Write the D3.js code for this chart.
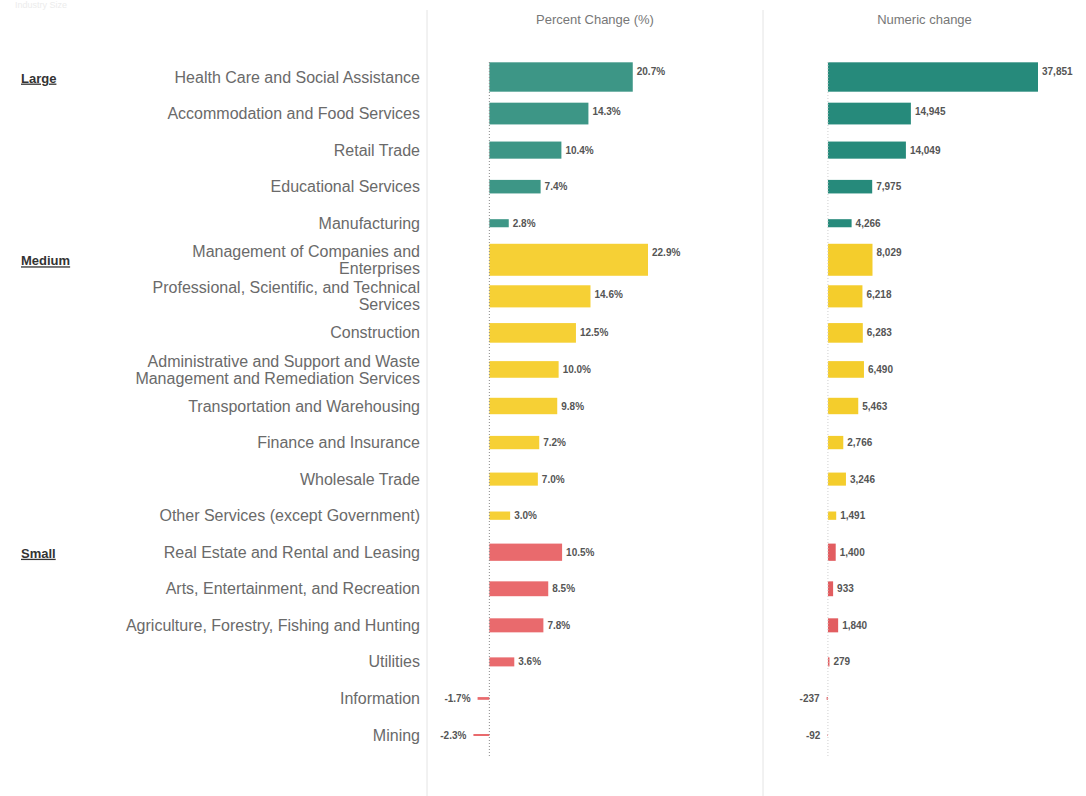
<!DOCTYPE html>
<html>
<head>
<meta charset="utf-8">
<script src="https://d3js.org/d3.v7.min.js"></script>
<style>
  body { margin: 0; background: #fff; }
  text { font-family: "Liberation Sans", Arial, sans-serif; }
</style>
</head>
<body>
<svg id="chart" width="1086" height="796"></svg>
<script>
/*
  Percent and numeric job change by industry, grouped by sector size.
  Bar thickness follows the percent change (like a Tableau size mark).
*/

var industries = [
  "Health Care and Social Assistance",
  "Accommodation and Food Services",
  "Retail Trade",
  "Educational Services",
  "Manufacturing",
  "Management of Companies and\nEnterprises",
  "Professional, Scientific, and Technical\nServices",
  "Construction",
  "Administrative and Support and Waste\nManagement and Remediation Services",
  "Transportation and Warehousing",
  "Finance and Insurance",
  "Wholesale Trade",
  "Other Services (except Government)",
  "Real Estate and Rental and Leasing",
  "Arts, Entertainment, and Recreation",
  "Agriculture, Forestry, Fishing and Hunting",
  "Utilities",
  "Information",
  "Mining"
];

var sizeGroups = [
  "Large", "Large", "Large", "Large", "Large",
  "Medium", "Medium", "Medium", "Medium", "Medium", "Medium", "Medium", "Medium",
  "Small", "Small", "Small", "Small", "Small", "Small"
];

var percentChange = [20.7, 14.3, 10.4, 7.4, 2.8, 22.9, 14.6, 12.5, 10.0, 9.8,
  7.2, 7.0, 3.0, 10.5, 8.5, 7.8, 3.6, -1.7, -2.3];

var numericChange = [37851, 14945, 14049, 7975, 4266, 8029, 6218, 6283, 6490,
  5463, 2766, 3246, 1491, 1400, 933, 1840, 279, -237, -92];

var panelTitles = ["Percent Change (%)", "Numeric change"];
var groupNames = ["Large", "Medium", "Small"];

var pctColors = {Large: "#3d9686", Medium: "#f6d035", Small: "#e96a6d"};
var numColors = {Large: "#268a7b", Medium: "#f4cd2c", Small: "#e25d60"};

// plain hyphen for negative numbers
var locale = d3.formatLocale({decimal: ".", thousands: ",", grouping: [3],
  currency: ["$", ""], minus: "-"});

var svg = d3.select("#chart");
var rows = d3.range(industries.length);

// row positions and bar thickness
var y = d3.scalePoint().domain(rows).range([77, 735]);
var thickness = d3.scaleLinear()
  .domain(d3.extent(percentChange))
  .range([2, 32]);

// the two panels
var xPct = d3.scaleLinear().domain([-9, 39.5]).range([427, 763]);
var xNum = d3.scaleLinear().domain([-11700, 46500]).range([763, 1086]);

// faint column header at the top edge
svg.append("text")
  .attr("x", 15)
  .attr("y", 8)
  .attr("font-size", 9)
  .attr("fill", "#ececec")
  .text("Industry Size");

// panel separators
[427, 763].forEach(function(px) {
  svg.append("line")
    .attr("x1", px).attr("x2", px)
    .attr("y1", 10).attr("y2", 796)
    .attr("stroke", "#e4e4e4")
    .attr("stroke-width", 1);
});

// group labels
groupNames.forEach(function(g) {
  var first = sizeGroups.indexOf(g);
  svg.append("text")
    .attr("x", 21)
    .attr("y", y(first) + 1)
    .attr("dy", "0.35em")
    .attr("font-size", 13)
    .attr("font-weight", "bold")
    .attr("fill", "#333")
    .attr("text-decoration", "underline")
    .text(g);
});

// industry labels
var labels = svg.append("g").selectAll("text")
  .data(rows)
  .enter().append("text")
  .attr("text-anchor", "end")
  .attr("font-size", 16)
  .attr("fill", "#6a6a6a");

labels.each(function(i) {
  var lines = industries[i].split("\n");
  var t = d3.select(this);
  lines.forEach(function(line, k) {
    t.append("tspan")
      .attr("x", 420)
      .attr("y", y(i) + (k - (lines.length - 1) / 2) * 17)
      .attr("dy", "0.35em")
      .text(line);
  });
});

function drawPanel(x, values, colors, title, fmt, zeroStroke) {
  /*   Draws one bar panel.
       Args:
         x        horizontal scale of the panel
         values   the values per industry
         colors   colour per size group
  */

  var mid = (x.range()[0] + x.range()[1]) / 2;
  svg.append("text")
    .attr("x", mid)
    .attr("y", 19)
    .attr("dy", "0.35em")
    .attr("text-anchor", "middle")
    .attr("font-size", 13)
    .attr("fill", "#777")
    .text(title);

  var g = svg.append("g");

  g.selectAll("rect")
    .data(rows)
    .enter().append("rect")
    .attr("x", function(i) { return Math.min(x(0), x(values[i])); })
    .attr("width", function(i) { return Math.abs(x(values[i]) - x(0)); })
    .attr("y", function(i) { return y(i) - thickness(percentChange[i]) / 2; })
    .attr("height", function(i) { return thickness(percentChange[i]); })
    .attr("fill", function(i) { return colors[sizeGroups[i]]; });

  // zero line
  g.append("line")
    .attr("x1", x(0)).attr("x2", x(0))
    .attr("y1", 62).attr("y2", 757)
    .attr("stroke", zeroStroke)
    .attr("stroke-width", 1)
    .attr("stroke-dasharray", "1,2");

  g.selectAll(".value")
    .data(rows)
    .enter().append("text")
    .attr("class", "value")
    .attr("x", function(i) {
      return values[i] < 0 ? x(values[i]) - 7 : x(values[i]) + 4;
    })
    .attr("y", function(i) {
      var top = y(i) - thickness(percentChange[i]) / 2;
      return Math.min(y(i), top + 9);
    })
    .attr("dy", "0.35em")
    .attr("text-anchor", function(i) { return values[i] < 0 ? "end" : "start"; })
    .attr("font-size", 10)
    .attr("font-weight", "bold")
    .attr("fill", "#555")
    .text(function(i) { return fmt(values[i]); });
}

drawPanel(xPct, percentChange, pctColors, panelTitles[0],
  function(v) { return locale.format(".1f")(v) + "%"; }, "#8a8a8a");
drawPanel(xNum, numericChange, numColors, panelTitles[1],
  locale.format(","), "#cfcfcf");
</script>
</body>
</html>
